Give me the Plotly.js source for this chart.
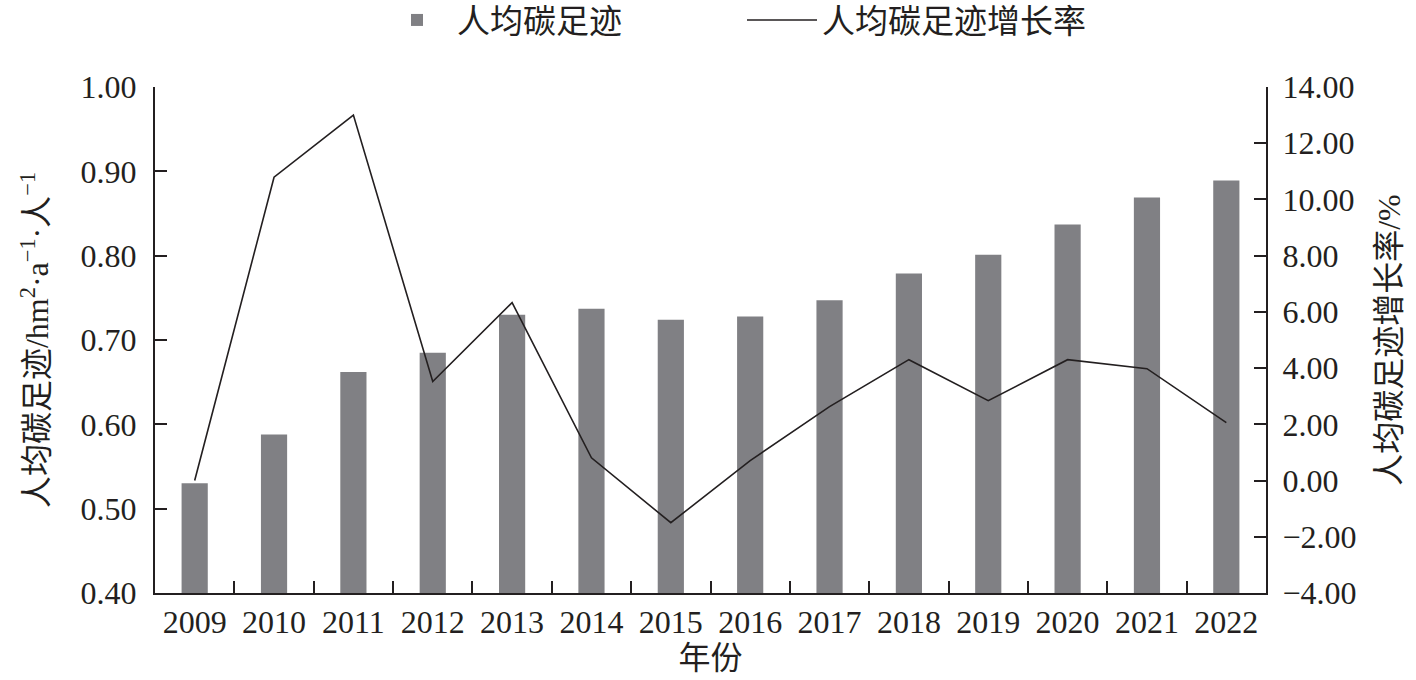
<!DOCTYPE html>
<html>
<head>
<meta charset="utf-8">
<script src="https://cdn.plot.ly/plotly-3.0.1.min.js"></script>
<style>
  html, body { margin: 0; padding: 0; background: #fff; }
  #plot { width: 1416px; height: 680px; }
</style>
</head>
<body>
<div id="plot"></div>
<script>
// per-capita carbon footprint, 2009-2022
let years = ['2009', '2010', '2011', '2012', '2013', '2014', '2015',
             '2016', '2017', '2018', '2019', '2020', '2021', '2022'];
let footprint = [0.530, 0.588, 0.662, 0.685, 0.730, 0.737, 0.724,
                 0.728, 0.747, 0.779, 0.801, 0.837, 0.869, 0.889];
let growthRate = [0.00, 10.79, 13.00, 3.52, 6.33, 0.81, -1.50,
                  0.71, 2.63, 4.30, 2.84, 4.30, 3.98, 2.06];
let leftTicks = [0.40, 0.50, 0.60, 0.70, 0.80, 0.90, 1.00];
let rightTicks = [-4, -2, 0, 2, 4, 6, 8, 10, 12, 14];

let fontFamily = '"Liberation Serif", "Times New Roman", "Noto Sans CJK SC", serif';
let textColor = '#231f20';

let data = [
  {
    type: 'bar',
    name: '人均碳足迹',
    x: years,
    y: footprint,
    marker: { color: '#808084' },
    yaxis: 'y'
  },
  {
    type: 'scatter',
    mode: 'lines',
    name: '人均碳足迹增长率',
    x: years,
    y: growthRate,
    line: { color: '#231f20', width: 1.6 },
    yaxis: 'y2'
  }
];

let layout = {
  width: 1416,
  height: 680,
  paper_bgcolor: '#fff',
  plot_bgcolor: 'rgba(0,0,0,0)',
  font: { family: fontFamily, size: 32, color: textColor },
  bargap: 0.67,
  margin: { l: 155, r: 150, t: 87, b: 87, autoexpand: false },
  showlegend: true,
  legend: {
    orientation: 'h',
    x: (377 - 155) / 1111,
    xanchor: 'left',
    y: 1 + (87 - 20) / 506,
    yanchor: 'middle',
    font: { size: 33, family: fontFamily },
    itemwidth: 70,
    entrywidth: 280,
    traceorder: 'normal'
  },
  xaxis: {
    type: 'category',
    tickson: 'boundaries',
    ticks: 'inside',
    ticklen: 12,
    tickwidth: 2,
    tickcolor: textColor,
    showline: true,
    linecolor: textColor,
    linewidth: 2,
    showgrid: false,
    zeroline: false,
    range: [-0.5, 13.5],
    tickfont: { size: 32 },
    title: { text: '年份', font: { size: 32 }, standoff: 4 }
  },
  yaxis: {
    range: [0.40, 1.00],
    tickvals: leftTicks,
    tickformat: '.2f',
    ticks: 'inside',
    ticklen: 12,
    tickwidth: 2,
    tickcolor: textColor,
    ticklabelstandoff: 10,
    showline: true,
    linecolor: textColor,
    linewidth: 2,
    showgrid: false,
    zeroline: false,
    tickfont: { size: 32 },
    title: { text: '人均碳足迹/hm<sup>2</sup>·a<sup>−1</sup>·人<sup>−1</sup>', font: { size: 32 }, standoff: 22 }
  },
  yaxis2: {
    overlaying: 'y',
    side: 'right',
    range: [-4, 14],
    tickvals: rightTicks,
    tickformat: '.2f',
    ticks: 'inside',
    ticklen: 12,
    tickwidth: 2,
    tickcolor: textColor,
    ticklabelstandoff: 8,
    showline: true,
    linecolor: textColor,
    linewidth: 2,
    showgrid: false,
    zeroline: false,
    tickfont: { size: 32 },
    title: { text: '人均碳足迹增长率/%', font: { size: 32 }, standoff: 22 }
  }
};

let options = { staticPlot: true, displayModeBar: false };

Plotly.newPlot('plot', data, layout, options);
</script>
</body>
</html>
